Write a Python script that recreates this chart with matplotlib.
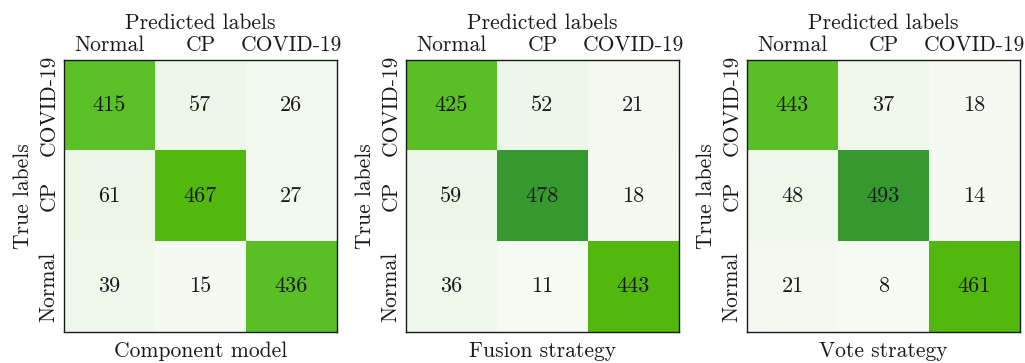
import numpy as np
import matplotlib
matplotlib.use('Agg')
import matplotlib.pyplot as plt
from matplotlib.colors import LinearSegmentedColormap

plt.rcParams['font.family'] = 'serif'
plt.rcParams['font.serif'] = ['cmr10']
plt.rcParams['axes.formatter.use_mathtext'] = True

# class order along the axes
pred_labels = ['Normal', 'CP', 'COVID-19']
true_labels = ['COVID-19', 'CP', 'Normal']

titles = ['Component model', 'Fusion strategy', 'Vote strategy']

component_cm = [[415, 57, 26],
                [61, 467, 27],
                [39, 15, 436]]
fusion_cm = [[425, 52, 21],
             [59, 478, 18],
             [36, 11, 443]]
vote_cm = [[443, 37, 18],
           [48, 493, 14],
           [21, 8, 461]]

matrices = [component_cm, fusion_cm, vote_cm]
vmax_list = [500, 475, 495]

# green scale: pale for the small counts, then medium / lime / dark green at the top
green = LinearSegmentedColormap.from_list('green_cm', [
    (0.00, '#f7fbf5'),
    (0.12, '#edf7e8'),
    (0.50, '#a8d98a'),
    (0.82, '#5cc028'),
    (0.90, '#5abf25'),
    (0.93, '#53b90f'),
    (0.96, '#52b80e'),
    (0.985, '#359930'),
    (1.00, '#359930'),
])

FS = 15.5
TXT = '#1a1a1a'

fig = plt.figure(figsize=(10.25, 3.63), dpi=100)
lefts = [0.0624, 0.396, 0.7288]

for k, (cm, title, vmax) in enumerate(zip(matrices, titles, vmax_list)):
    ax = fig.add_axes([lefts[k], 0.0854, 0.2663, 0.749])
    data = np.array(cm)
    ax.imshow(data, cmap=green, vmin=0, vmax=vmax, aspect='auto')
    for i in range(data.shape[0]):
        for j in range(data.shape[1]):
            ax.text(j, i, str(data[i, j]), ha='center', va='center',
                    fontsize=16, color=TXT)
    ax.xaxis.tick_top()
    ax.xaxis.set_label_position('top')
    ax.set_xticks(range(3))
    ax.set_xticklabels(pred_labels, fontsize=FS, color=TXT)
    ax.set_yticks(range(3))
    ax.set_yticklabels(true_labels, fontsize=FS, rotation=90, va='center',
                       color=TXT)
    ax.tick_params(length=0, pad=4)
    ax.set_xlabel('Predicted labels', fontsize=FS, labelpad=4, color=TXT)
    ax.set_ylabel('True labels', fontsize=FS, labelpad=4, color=TXT)
    ax.text(0.5, -0.035, title, transform=ax.transAxes, ha='center', va='top',
            fontsize=FS, color=TXT)
    for sp in ax.spines.values():
        sp.set_linewidth(1.0)
        sp.set_color(TXT)

fig.savefig('out.png', dpi=100)
